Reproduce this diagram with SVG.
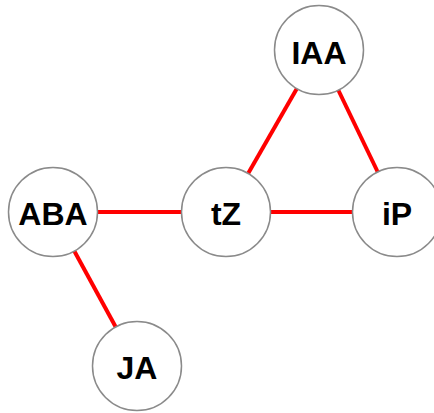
<svg xmlns="http://www.w3.org/2000/svg" width="434" height="413" viewBox="0 0 434 413">
  <style>
    .edge { stroke: #ff0000; stroke-width: 4; stroke-linecap: butt; }
    .node circle { fill: #ffffff; stroke: #8a8a8a; stroke-width: 1.5; }
    .node text { font-family: "Liberation Sans", Arial, sans-serif; font-weight: bold; font-size: 32px; fill: #000000; text-anchor: middle; dominant-baseline: central; }
  </style>
  <rect width="434" height="413" fill="#ffffff"/>
  <g id="edges">
    <line class="edge" x1="53" y1="212" x2="226" y2="212"/>
    <line class="edge" x1="226" y1="212" x2="397" y2="212"/>
    <line class="edge" x1="226" y1="212" x2="319" y2="50"/>
    <line class="edge" x1="319" y1="50" x2="397" y2="212"/>
    <line class="edge" x1="53" y1="212" x2="137" y2="366"/>
  </g>
  <g id="node-IAA" class="node">
    <circle cx="319" cy="50" r="44.5"/>
    <text x="319" y="53">IAA</text>
  </g>
  <g id="node-ABA" class="node">
    <circle cx="53" cy="212" r="44.5"/>
    <text x="53" y="214">ABA</text>
  </g>
  <g id="node-tZ" class="node">
    <circle cx="226" cy="212" r="44.5"/>
    <text x="226" y="214">tZ</text>
  </g>
  <g id="node-iP" class="node">
    <circle cx="397" cy="212" r="44.5"/>
    <text x="397" y="214">iP</text>
  </g>
  <g id="node-JA" class="node">
    <circle cx="137" cy="366" r="44.5"/>
    <text x="137" y="368">JA</text>
  </g>
</svg>
